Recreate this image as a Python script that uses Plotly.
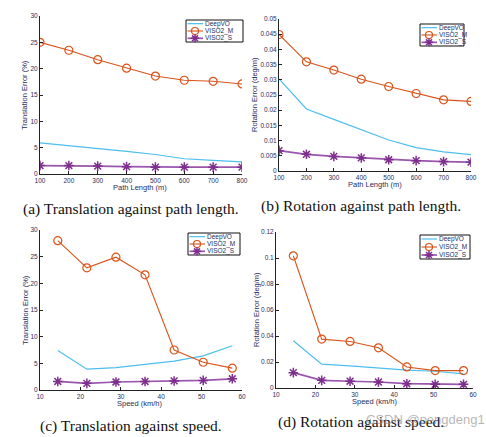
import plotly.graph_objects as go

# ---------------- data ----------------
path_len = [100, 200, 300, 400, 500, 600, 700, 800]
trans_path_deepvo = [5.9, 5.4, 4.9, 4.3, 3.7, 2.9, 2.6, 2.3]
trans_path_viso2m = [25.0, 23.5, 21.7, 20.1, 18.6, 17.8, 17.6, 17.1]
trans_path_viso2s = [1.6, 1.6, 1.5, 1.4, 1.3, 1.3, 1.3, 1.3]

rot_path_deepvo = [0.0303, 0.0204, 0.0170, 0.0135, 0.0102, 0.0077, 0.0063, 0.0054]
rot_path_viso2m = [0.0449, 0.0359, 0.0332, 0.0302, 0.0278, 0.0255, 0.0234, 0.0229]
rot_path_viso2s = [0.0067, 0.0055, 0.0048, 0.0043, 0.0037, 0.0034, 0.0031, 0.0029]

speed = [14.4, 21.6, 28.8, 36.0, 43.2, 50.4, 57.6]
trans_speed_deepvo = [7.4, 3.9, 4.2, 4.8, 5.4, 6.4, 8.3]
trans_speed_viso2m = [28.0, 22.9, 24.9, 21.6, 7.5, 5.2, 4.1]
trans_speed_viso2s = [1.6, 1.25, 1.5, 1.6, 1.7, 1.8, 2.1]

rot_speed_deepvo = [0.0363, 0.0183, 0.0170, 0.0155, 0.0137, 0.0129, 0.0108]
rot_speed_viso2m = [0.1017, 0.0376, 0.0358, 0.0309, 0.0162, 0.0134, 0.0134]
rot_speed_viso2s = [0.0118, 0.0059, 0.0052, 0.0046, 0.0033, 0.0028, 0.0028]

series_names = ["DeepVO", "VISO2_M", "VISO2_S"]
captions = ["(a) Translation against path length.",
            "(b) Rotation against path length.",
            "(c) Translation against speed.",
            "(d) Rotation against speed."]

# ---------------- style ----------------
W, H = 486, 437
C_DEEP = "#4DBEEE"
C_M = "#D95319"
C_S = "#7E2F8E"
C_S_LINE = "#9A55AD"
TXT = "#1F2D5A"
AX = "#222222"
SANS = "Liberation Sans, Arial, sans-serif"
SERIF = "Liberation Serif, Times New Roman, serif"

def px_x(a, b):
    return [a / W, b / W]

def px_y(top, bottom):
    return [1 - bottom / H, 1 - top / H]

panels = [
    dict(x=path_len, d=trans_path_deepvo, m=trans_path_viso2m, s=trans_path_viso2s,
         xd=px_x(40, 242), yd=px_y(16, 174), xr=[100, 800], yr=[0, 30], dx=100, dy=5,
         xt="Path Length (m)", yt="Translation Error (%)",
         xt_pos=(140, 188), yt_pos=(25, 95), leg=(186, 20, 243, 42), cap=(131, 209)),
    dict(x=path_len, d=rot_path_deepvo, m=rot_path_viso2m, s=rot_path_viso2s,
         xd=px_x(279, 471), yd=px_y(19, 171), xr=[100, 800], yr=[0, 0.05], dx=100, dy=0.005,
         xt="Path Length (m)", yt="Rotation Error (deg/m)",
         xt_pos=(375, 184), yt_pos=(255, 95), leg=(420, 24, 464, 46), cap=(361, 206)),
    dict(x=speed, d=trans_speed_deepvo, m=trans_speed_viso2m, s=trans_speed_viso2s,
         xd=px_x(40, 242), yd=px_y(230, 390), xr=[10, 60], yr=[0, 30], dx=10, dy=5,
         xt="Speed (km/h)", yt="Translation Error (%)",
         xt_pos=(140, 403), yt_pos=(25, 310), leg=(188, 233, 240, 255), cap=(131, 426)),
    dict(x=speed, d=rot_speed_deepvo, m=rot_speed_viso2m, s=rot_speed_viso2s,
         xd=px_x(276, 473), yd=px_y(232, 388), xr=[10, 60], yr=[0, 0.12], dx=10, dy=0.02,
         xt="Speed (km/h)", yt="Rotation Error (deg/m)",
         xt_pos=(375, 401), yt_pos=(256, 310), leg=(420, 235, 470, 259), cap=(361, 422)),
]

fig = go.Figure()
layout = dict(
    width=W, height=H,
    margin=dict(l=0, r=0, t=0, b=0, pad=0),
    paper_bgcolor="white", plot_bgcolor="rgba(0,0,0,0)",
    font=dict(family=SANS, size=7, color=TXT),
    showlegend=False,
)

annotations = []
shapes = []
common = dict(showline=True, linecolor=AX, linewidth=1, ticks="inside", ticklen=3,
              tickcolor=AX, showgrid=False, zeroline=False, automargin=False,
              tickfont=dict(family=SANS, size=6.5, color=TXT))

line_styles = [
    dict(mode="lines", line=dict(color=C_DEEP, width=1.2)),
    dict(mode="lines+markers", line=dict(color=C_M, width=1.1),
         marker=dict(symbol="circle-open", size=8, color=C_M, line=dict(width=1.2))),
    dict(mode="lines+markers", line=dict(color=C_S_LINE, width=1.7),
         marker=dict(symbol="asterisk-open", size=8, color=C_S, line=dict(width=1.5, color=C_S))),
]

for i, p in enumerate(panels):
    k = "" if i == 0 else str(i + 1)
    xa, ya = "x" + k, "y" + k
    for j, key in enumerate(["d", "m", "s"]):
        fig.add_trace(go.Scatter(x=p["x"], y=p[key], name=series_names[j],
                                 xaxis=xa, yaxis=ya, **line_styles[j]))
    layout["xaxis" + k] = dict(domain=p["xd"], range=p["xr"], dtick=p["dx"], tick0=p["xr"][0],
                               anchor=ya, **common)
    layout["yaxis" + k] = dict(domain=p["yd"], range=p["yr"], dtick=p["dy"], tick0=0,
                               anchor=xa, **common)
    # axis titles
    tx, ty = p["xt_pos"]
    annotations.append(dict(text=p["xt"], x=tx / W, y=1 - ty / H, xref="paper", yref="paper",
                            showarrow=False, xanchor="center", yanchor="middle", borderpad=0,
                            font=dict(family=SANS, size=7.5, color=TXT)))
    tx, ty = p["yt_pos"]
    annotations.append(dict(text=p["yt"], x=tx / W, y=1 - ty / H, xref="paper", yref="paper",
                            showarrow=False, xanchor="center", yanchor="middle", textangle=-90,
                            borderpad=0, font=dict(family=SANS, size=7.5, color=TXT)))
    # caption
    cx, cy = p["cap"]
    annotations.append(dict(text=captions[i], x=cx / W, y=1 - cy / H, xref="paper", yref="paper",
                            showarrow=False, xanchor="center", yanchor="middle", borderpad=0,
                            font=dict(family=SERIF, size=15.5, color="#111111")))
    # legend box (manual, to match the compact MATLAB legend)
    x0, y0, x1, y1 = p["leg"]
    shapes.append(dict(type="rect", xref="paper", yref="paper",
                       x0=x0 / W, x1=x1 / W, y0=1 - y1 / H, y1=1 - y0 / H,
                       line=dict(color="#111111", width=1), fillcolor="white", layer="below"))
    hstep = (y1 - y0) / 6.0
    for j in range(3):
        ry = y0 + hstep * (2 * j + 1)
        st = line_styles[j]
        fig.add_trace(go.Scatter(x=[x0 + 1.5, x0 + 17], y=[ry, ry], mode="lines",
                                 line=st["line"], xaxis="x5", yaxis="y5",
                                 hoverinfo="skip"))
        if "marker" in st:
            fig.add_trace(go.Scatter(x=[x0 + 9], y=[ry], mode="markers",
                                     marker=dict(st["marker"], size=7), xaxis="x5", yaxis="y5",
                                     hoverinfo="skip"))
        annotations.append(dict(text=series_names[j], x=(x0 + 18) / W, y=1 - ry / H,
                                xref="paper", yref="paper", showarrow=False,
                                xanchor="left", yanchor="middle", borderpad=0,
                                font=dict(family=SANS, size=6.5, color=TXT)))

# overlay axis in pixel units for legend glyphs
layout["xaxis5"] = dict(domain=[0, 1], range=[0, W], visible=False, anchor="y5", fixedrange=True)
layout["yaxis5"] = dict(domain=[0, 1], range=[H, 0], visible=False, anchor="x5", fixedrange=True)

annotations.append(dict(text="CSDN @pengdeng1", x=486 / W, y=1 - 419 / H, xref="paper", yref="paper",
                        showarrow=False, xanchor="right", yanchor="middle", borderpad=0,
                        font=dict(family=SANS, size=13, color="rgba(150,150,150,0.7)")))
layout["annotations"] = annotations
layout["shapes"] = shapes
fig.update_layout(**layout)
fig.write_html("out.html", config={"displayModeBar": False},
               post_script="document.body.style.margin='0';document.body.style.padding='0';")
